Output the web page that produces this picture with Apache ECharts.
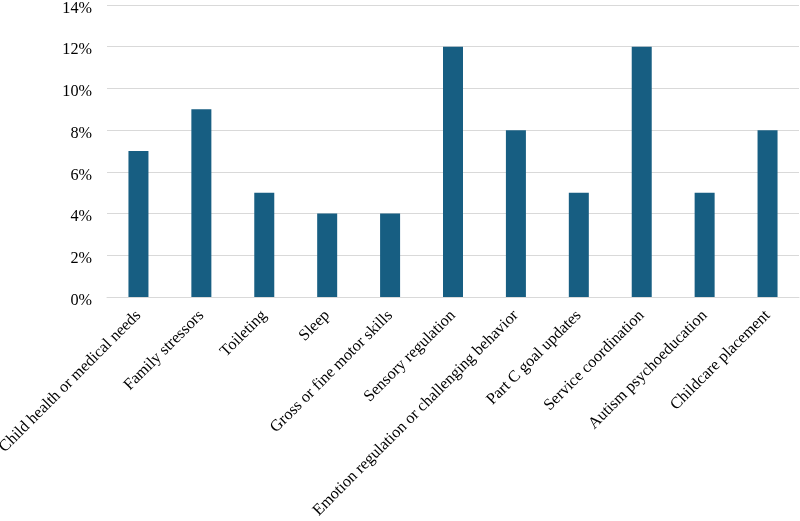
<!DOCTYPE html>
<html><head><meta charset="utf-8">
<script src="https://cdn.jsdelivr.net/npm/echarts@6/dist/echarts.min.js"></script>
<style>html,body{margin:0;padding:0;background:#fff}#c{width:800px;height:521px}</style>
</head><body><div id="c"></div>
<script>
const categories = ["Child health or medical needs","Family stressors","Toileting","Sleep","Gross or fine motor skills","Sensory regulation","Emotion regulation or challenging behavior","Part C goal updates","Service coordination","Autism psychoeducation","Childcare placement"];
const values = [7, 9, 5, 4, 4, 12, 8, 5, 12, 5, 8];
const yMin = 0, yMax = 14, yStep = 2;

const chart = echarts.init(document.getElementById('c'));
chart.setOption({
  animation: false,
  textStyle: {fontFamily: '"Liberation Serif", "Times New Roman", serif'},
  grid: {left: 107, right: 1, top: 5, bottom: 224, containLabel: false, outerBoundsMode: 'none'},
  xAxis: {
    type: 'category', data: categories,
    axisTick: {show: false},
    axisLine: {lineStyle: {color: '#d9d9d9', width: 1}},
    axisLabel: {rotate: 45, interval: 0, margin: 16, fontSize: 16.2, color: '#000', fontFamily: '"Liberation Serif", serif'}
  },
  yAxis: {
    type: 'value', min: yMin, max: yMax, interval: yStep,
    axisLine: {show: false}, axisTick: {show: false},
    splitLine: {lineStyle: {color: '#d9d9d9', width: 1}},
    axisLabel: {
      formatter: v => '{a|' + v + '%}', margin: 15,
      rich: {a: {fontSize: 16.2, color: '#000', padding: [7, 0, 0, 0], fontFamily: '"Liberation Serif", serif'}}
    }
  },
  series: [{type: 'bar', data: values, barWidth: 20, itemStyle: {color: '#175E82'}}]
});
</script></body></html>
